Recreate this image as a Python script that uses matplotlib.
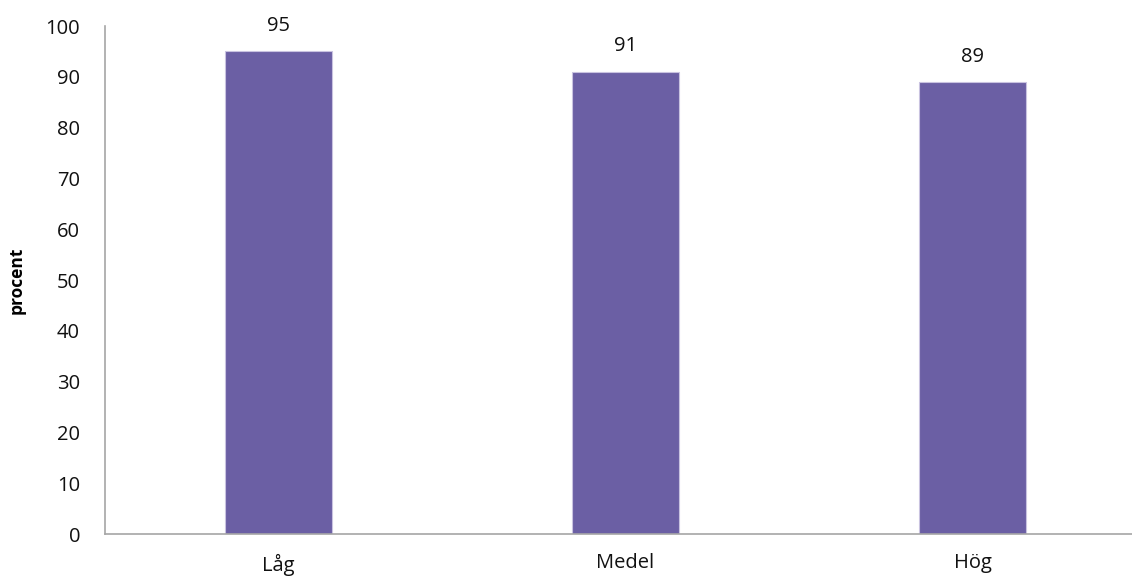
import matplotlib
matplotlib.use("Agg")
import matplotlib.pyplot as plt

categories = ["Låg", "Medel", "Hög"]
values = [95, 91, 89]

BAR_COLOR = "#6B5FA4"
SPINE_COLOR = "#A6A6A6"

plt.rcParams["font.family"] = ["Open Sans", "DejaVu Sans"]

fig = plt.figure(figsize=(11.32, 5.8), dpi=100)
ax = fig.add_axes([105 / 1132, 46 / 580, 1027 / 1132, 508 / 580])

x = list(range(len(categories)))
ax.bar(x, values, width=0.31, color=BAR_COLOR, edgecolor="#C9C3E0", linewidth=0.8, zorder=2)

for xi, v in zip(x, values):
    ax.text(xi, v + 3, f"{v}", ha="center", va="bottom", fontsize=14.5, color="#111111")

ax.set_xlim(-0.5, -0.5 + 1027 / 347)
ax.set_ylim(0, 100)
ax.set_yticks(range(0, 101, 10))
ax.set_xticks(x)
ax.set_xticklabels(categories)

for side in ["top", "right"]:
    ax.spines[side].set_visible(False)
for side in ["left", "bottom"]:
    ax.spines[side].set_color(SPINE_COLOR)
    ax.spines[side].set_linewidth(1.2)

ax.tick_params(axis="y", length=0, pad=18, labelsize=14.5, colors="#111111")
ax.tick_params(axis="x", length=0, pad=14, labelsize=14.5, colors="#111111")

ax.set_ylabel("procent", fontsize=12.5, fontweight="bold", labelpad=14)

fig.savefig("out.png", dpi=100)
